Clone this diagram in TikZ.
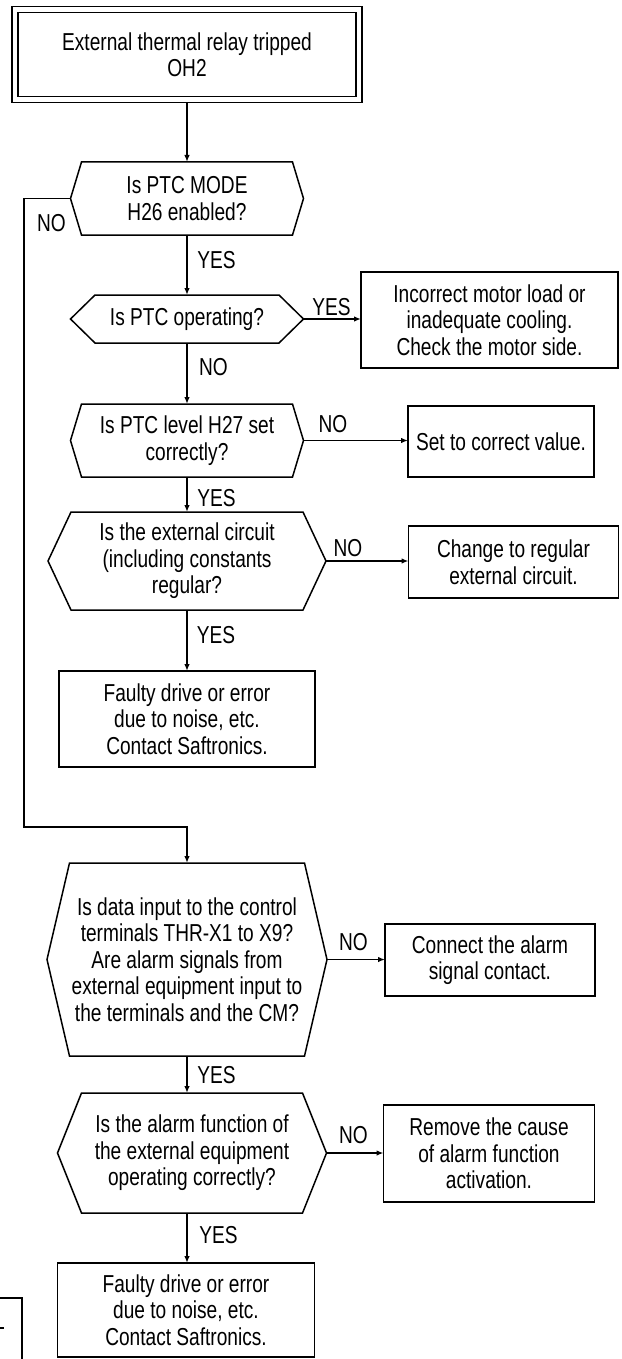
\documentclass[tikz,border=0pt]{standalone}
\usepackage{fontspec}
\setmainfont{Liberation Sans}[FakeStretch=0.78]
\usetikzlibrary{arrows.meta, positioning, calc}

% hexagon outline round a (borderless) decision node
\newcommand{\hexframe}[2]{%
  \draw[line width=1.5pt, line join=miter]
    ([xshift=#2]#1.north west) -- ([xshift=-#2]#1.north east) -- (#1.east)
    -- ([xshift=-#2]#1.south east) -- ([xshift=#2]#1.south west) -- (#1.west) -- cycle;}

\begin{document}
\begin{tikzpicture}[
  x=1pt, y=-1pt,
  every node/.style={font=\fontsize{24.5pt}{26.5pt}\selectfont},
  startbox/.style={draw, double, double distance=4.6pt, line width=1.4pt,
    outer sep=3.7pt, minimum width=344pt, minimum height=90pt, align=center},
  decision/.style={minimum width=#1, inner sep=0pt, outer sep=0pt, align=center},
  action/.style={draw, line width=1.5pt, inner sep=0pt, outer sep=0pt, align=center},
  arr/.style={-{Latex[length=7pt, width=5.5pt]}, line width=1.5pt},
  lbl/.style={inner sep=0pt}
]
  \useasboundingbox (0,0) rectangle (621,1359);

  % Start
  \node[startbox] (start) at (187, 54.5)
    {External thermal relay tripped\\OH2};

  % Questions
  \node[decision=233pt, minimum height=73pt] (mode) at (187, 198.5)
    {Is PTC MODE\\H26 enabled?};
  \node[decision=233pt, minimum height=48pt] (ptc) at (187, 319)
    {Is PTC operating?};
  \node[decision=233pt, minimum height=73pt] (level) at (187, 440.5)
    {Is PTC level H27 set\\correctly?};
  \node[decision=278pt, minimum height=98pt] (circuit) at (187, 561)
    {Is the external circuit\\(including constants\\regular?};
  \node[decision=280pt, minimum height=193pt] (input) at (187, 959.5)
    {Is data input to the control\\terminals THR-X1 to X9?\\Are alarm signals from\\external equipment input to\\the terminals and the CM?};
  \node[decision=269pt, minimum height=120pt] (alarm) at (192, 1153)
    {Is the alarm function of\\the external equipment\\operating correctly?};

  \hexframe{mode}{11pt}
  \hexframe{ptc}{24.5pt}
  \hexframe{level}{11pt}
  \hexframe{circuit}{23pt}
  \hexframe{input}{22.5pt}
  \hexframe{alarm}{24pt}

  % Results
  \node[action, minimum width=257pt, minimum height=96pt] (motor) at (489.5, 320)
    {Incorrect motor load or\\inadequate cooling.\\Check the motor side.};
  \node[action, minimum width=186pt, minimum height=71pt] (setval) at (501, 441.5)
    {Set to correct value.};
  \node[action, minimum width=210pt, minimum height=72pt] (regular) at (513.5, 562)
    {Change to regular\\external circuit.};
  \node[action, minimum width=256pt, minimum height=96pt] (faulty1) at (187, 719)
    {Faulty drive or error\\due to noise, etc.\\Contact Saftronics.};
  \node[action, minimum width=210pt, minimum height=72pt] (connect) at (490, 960)
    {Connect the alarm\\signal contact.};
  \node[action, minimum width=211pt, minimum height=97pt] (remove) at (489, 1153.5)
    {Remove the cause\\of alarm function\\activation.};
  \node[action, minimum width=257pt, minimum height=94pt] (faulty2) at (186, 1310)
    {Faulty drive or error\\due to noise, etc.\\Contact Saftronics.};

  % Arrows
  \draw[arr] (start) -- (mode);
  \draw[arr] (mode) -- (ptc);
  \draw[arr] (ptc) -- (level);
  \draw[arr] (level) -- (circuit);
  \draw[arr] (circuit) -- (faulty1);
  \draw[arr] (input) -- (input |- alarm.north);
  \draw[arr] (alarm.south -| input.south) -- (input.south |- faulty2.north);

  \draw[arr] (ptc.east) -- (ptc.east -| motor.west);
  \draw[arr] (level.east) -- (level.east -| setval.west);
  \draw[arr] (circuit.east) -- (circuit.east -| regular.west);
  \draw[arr] (input.east) -- (input.east -| connect.west);
  \draw[arr] (alarm.east) -- (alarm.east -| remove.west);

  \coordinate (noturn) at (24, 827);
  \draw[arr] (mode.west) -| (noturn) -| (input.north);

  % Labels
  \node[lbl] (no1) at (51.5, 223) {NO};
  \node[lbl] (yes1) at (216.5, 260) {YES};
  \node[lbl] (yes2) at (331.5, 307) {YES};
  \node[lbl] (no2) at (213.5, 367) {NO};
  \node[lbl] (no3) at (333, 424) {NO};
  \node[lbl] (yes3) at (216.5, 498) {YES};
  \node[lbl] (no4) at (348, 548) {NO};
  \node[lbl] (yes4) at (216, 635) {YES};
  \node[lbl] (no5) at (353.5, 942) {NO};
  \node[lbl] (yes5) at (216.5, 1075) {YES};
  \node[lbl] (no6) at (353.5, 1135) {NO};
  \node[lbl] (yes6) at (218.5, 1235) {YES};

  % cut-off box at the page edge
  \draw[line width=1.5pt] (0, 1298) -- (22, 1298) -- (22, 1359);
  \draw[line width=1.5pt] (0, 1328) -- (4, 1328);
\end{tikzpicture}
\end{document}
